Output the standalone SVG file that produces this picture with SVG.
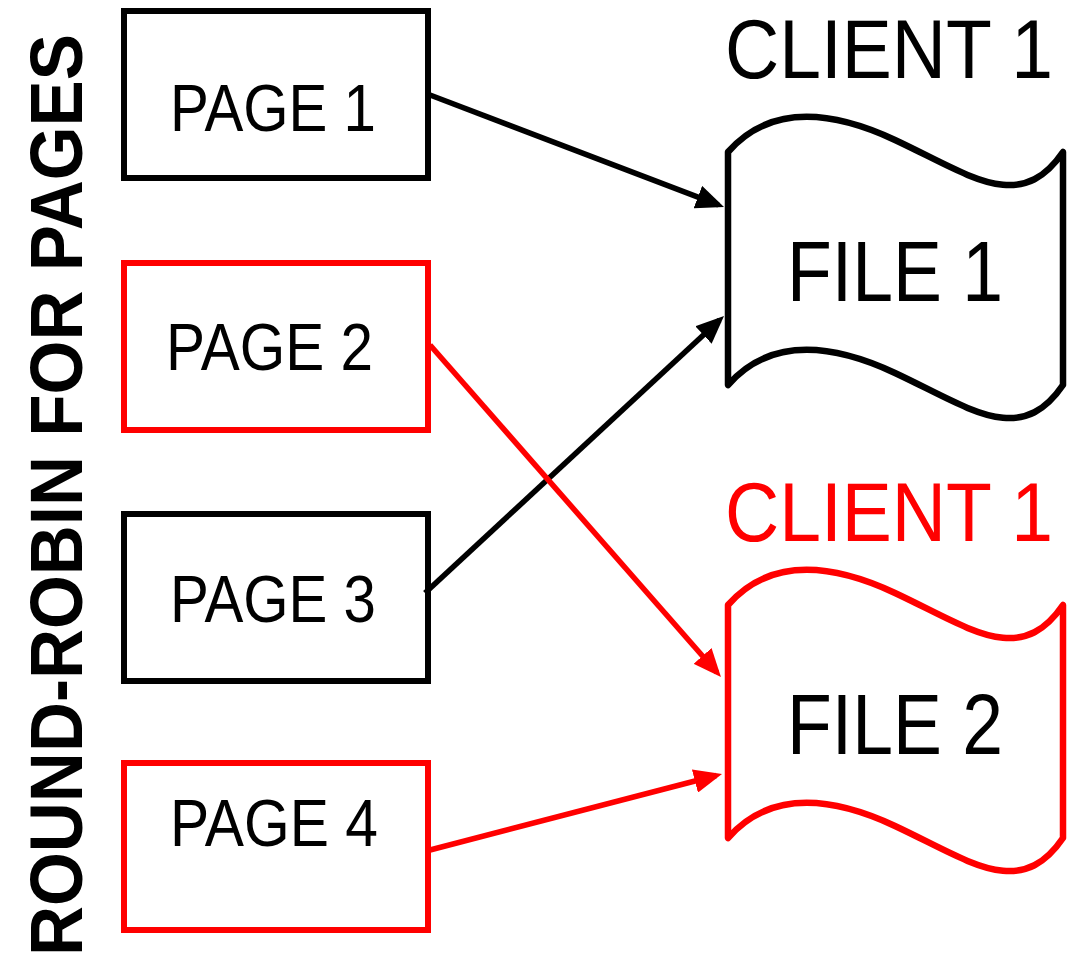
<svg xmlns="http://www.w3.org/2000/svg" width="1076" height="966" viewBox="0 0 1076 966">
  <style>
    .box { fill: #ffffff; stroke-width: 6; }
    .file { fill: #ffffff; stroke-width: 6.5; stroke-linejoin: round; }
    .blk { stroke: #000000; }
    .red { stroke: #ff0000; }
    .lbl { font-family: "Liberation Sans", Arial, sans-serif; fill: #000000; }
    .page { font-size: 67px; }
    .fname { font-size: 85px; }
    .client { font-size: 84px; }
    .title { font-size: 75px; font-weight: bold; }
    .conn { fill: none; stroke-width: 5.5; }
  </style>
  <defs>
    <marker id="headBlack" markerUnits="userSpaceOnUse" viewBox="0 0 28 24" markerWidth="28" markerHeight="24" refX="22" refY="12" orient="auto">
      <path d="M0,0 L28,12 L0,24 z" fill="#000000"/>
    </marker>
    <marker id="headRed" markerUnits="userSpaceOnUse" viewBox="0 0 28 24" markerWidth="28" markerHeight="24" refX="22" refY="12" orient="auto">
      <path d="M0,0 L28,12 L0,24 z" fill="#ff0000"/>
    </marker>
  </defs>

  <rect width="1076" height="966" fill="#ffffff"/>

  <g id="title">
    <text class="lbl title" transform="rotate(-90)" x="-495" y="82" text-anchor="middle" textLength="922" lengthAdjust="spacingAndGlyphs">ROUND-ROBIN FOR PAGES</text>
  </g>

  <g id="page1">
    <rect class="box blk" x="124" y="11" width="304" height="167"/>
    <text class="lbl page" x="170" y="131" textLength="206" lengthAdjust="spacingAndGlyphs">PAGE 1</text>
  </g>
  <g id="page2">
    <rect class="box red" x="124" y="263" width="304" height="167"/>
    <text class="lbl page" x="166" y="370" textLength="207" lengthAdjust="spacingAndGlyphs">PAGE 2</text>
  </g>
  <g id="page3">
    <rect class="box blk" x="124" y="514" width="304" height="167"/>
    <text class="lbl page" x="170" y="622" textLength="206" lengthAdjust="spacingAndGlyphs">PAGE 3</text>
  </g>
  <g id="page4">
    <rect class="box red" x="124" y="763" width="304" height="167"/>
    <text class="lbl page" x="170" y="846" textLength="208" lengthAdjust="spacingAndGlyphs">PAGE 4</text>
  </g>

  <g id="file1">
    <text class="lbl client" x="725" y="78" textLength="328" lengthAdjust="spacingAndGlyphs">CLIENT 1</text>
    <path class="file blk" d="M728,152 C765,110 820,105 895,140 C970,175 1020,215 1063,152 L1063,385 C1020,448 970,408 895,373 C820,338 765,343 728,385 Z"/>
    <text class="lbl fname" x="787" y="301" textLength="216" lengthAdjust="spacingAndGlyphs">FILE 1</text>
  </g>

  <g id="file2">
    <text class="lbl client" x="725" y="541" textLength="328" lengthAdjust="spacingAndGlyphs" style="fill:#ff0000">CLIENT 1</text>
    <path class="file red" d="M728,605 C765,563 820,558 895,593 C970,628 1020,668 1063,605 L1063,838 C1020,901 970,861 895,826 C820,791 765,796 728,838 Z"/>
    <text class="lbl fname" x="787" y="754" textLength="216" lengthAdjust="spacingAndGlyphs">FILE 2</text>
  </g>

  <g id="connectors">
    <path class="conn blk" d="M430,95 L718.4,204.9" marker-end="url(#headBlack)"/>
    <path class="conn blk" d="M425,593 L719.6,320.1" marker-end="url(#headBlack)"/>
    <path class="conn red" d="M430,345 L717,672.5" marker-end="url(#headRed)"/>
    <path class="conn red" d="M430,850 L716.2,775.5" marker-end="url(#headRed)"/>
  </g>
</svg>
